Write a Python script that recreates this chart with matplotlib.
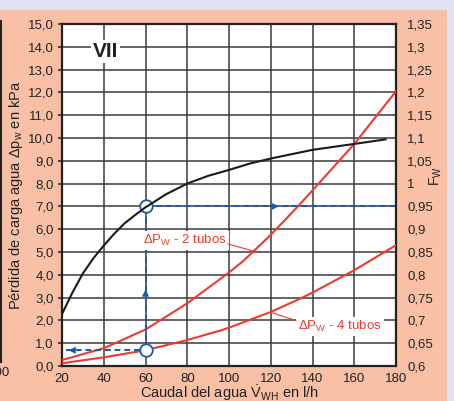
import matplotlib.pyplot as plt
from matplotlib.lines import Line2D
from matplotlib.patches import Rectangle

plt.rcParams['font.family'] = ['Liberation Sans', 'DejaVu Sans']
plt.rcParams['mathtext.fontset'] = 'custom'
plt.rcParams['mathtext.rm'] = 'Liberation Sans'
plt.rcParams['mathtext.it'] = 'Liberation Sans:italic'
plt.rcParams['mathtext.bf'] = 'Liberation Sans:bold'

# caudal de agua (l/h) y pérdida de carga (kPa)
caudal_2t = [20, 40, 60, 67, 80, 100, 107, 120, 133, 140, 160, 180]
dp_2tubos = [0.26, 0.78, 1.6, 2.0, 2.75, 4.1, 4.62, 5.75, 7.0, 7.7, 9.74, 12.05]
caudal_4t = [20, 40, 60, 80, 96, 100, 120, 134, 140, 160, 180]
dp_4tubos = [0.12, 0.38, 0.69, 1.14, 1.56, 1.68, 2.37, 2.95, 3.22, 4.2, 5.3]

# factor de corrección Fw
caudal_fw = [20, 25, 30, 35, 40, 45, 50, 55, 60, 70, 80, 90, 100, 110, 120, 140, 160, 175]
fw = [0.714, 0.761, 0.803, 0.836, 0.864, 0.89, 0.913, 0.931, 0.948, 0.977, 1.0,
      1.017, 1.03, 1.044, 1.055, 1.074, 1.087, 1.097]

# ejemplo de lectura
q_ej = 60
dp_ej = 0.69
fw_ej = 0.95

x_ticks = [20, 40, 60, 80, 100, 120, 140, 160, 180]
dp_ticks = [i * 1.0 for i in range(16)]
fw_ticks = [0.6 + 0.05 * i for i in range(16)]

rojo = '#ee3b2f'
azul = '#1a5aaa'
melocoton = '#f9c0a6'
lavanda = '#dfe3f3'

fig = plt.figure(figsize=(4.54, 4.01), dpi=100, facecolor=lavanda)
fig.patches.append(Rectangle((0, 0), 447 / 454, 391 / 401, transform=fig.transFigure,
                             facecolor=melocoton, edgecolor='none', zorder=-10))
fig.lines.append(Line2D([1 / 454, 1 / 454], [1 - 21 / 401, 1 - 362 / 401],
                        transform=fig.transFigure, color='#222222', lw=1.5))
fig.text(10 / 454, 1 - 373 / 401, '100', ha='right', va='center', fontsize=9.5, color='#222222')

ax = fig.add_axes([62 / 454, 35 / 401, 334 / 454, 342 / 401])
ax.set_facecolor('white')
ax.set_xlim(20, 180)
ax.set_ylim(0, 15)
ax.set_xticks(x_ticks)
ax.set_yticks(dp_ticks)
ax.set_yticklabels([f'{v:.1f}'.replace('.', ',') for v in dp_ticks])
ax.grid(True, color='#3a3a3a', lw=1.1)
ax.set_axisbelow(True)
for s in ax.spines.values():
    s.set_linewidth(1.6)
    s.set_color('#222222')
ax.tick_params(axis='y', direction='out', length=3, width=1.1, pad=3, labelsize=9.5, colors='#222222')
ax.tick_params(axis='x', length=0, pad=5, labelsize=9.5, colors='#222222')

ax.plot(caudal_2t, dp_2tubos, color=rojo, lw=1.5, zorder=3)
ax.plot(caudal_4t, dp_4tubos, color=rojo, lw=1.5, zorder=3)

ax2 = ax.twinx()
ax2.set_ylim(0.6, 1.35)
ax2.set_yticks(fw_ticks)
ax2.set_yticklabels([format(round(v, 2), 'g').replace('.', ',') for v in fw_ticks])
ax2.tick_params(axis='y', length=0, pad=8, labelsize=9.5, colors='#222222')
for s in ax2.spines.values():
    s.set_visible(False)
ax2.plot(caudal_fw, fw, color='#1a1a1a', lw=1.5, zorder=3)
fig.text(436 / 454, 1 - 176 / 401, r'F$_\mathregular{W}$', rotation=90, ha='center', va='center',
         fontsize=10, color='#222222')

# líneas de lectura (coordenadas del eje izquierdo)
dp_fw = (fw_ej - 0.6) / 0.05
ax.plot([21.8, q_ej], [dp_ej, dp_ej], ls=(0, (3, 2)), color=azul, lw=1.4, zorder=4)
ax.plot([q_ej, q_ej], [dp_ej, dp_fw], ls=(0, (3, 2)), color=azul, lw=1.4, zorder=4)
ax.plot([q_ej, 180], [dp_fw, dp_fw], ls=(0, (3, 2)), color=azul, lw=1.4, zorder=4)
flecha = dict(arrowstyle='-|>', color=azul, lw=0, mutation_scale=13)
ax.annotate('', xy=(21.8, dp_ej), xytext=(27, dp_ej), arrowprops=flecha, zorder=5)
ax.annotate('', xy=(q_ej, 3.48), xytext=(q_ej, 3.0), arrowprops=flecha, zorder=5)
ax.annotate('', xy=(125.2, dp_fw), xytext=(120, dp_fw), arrowprops=flecha, zorder=5)
ax.plot([q_ej, q_ej], [dp_ej, dp_fw], 'o', ms=9, mfc='white', mec=azul, mew=1.3, zorder=6)

# etiquetas
caja = dict(boxstyle='square,pad=0.15', facecolor='white', edgecolor='none')
ax.text(40.8, 13.78, 'VII', ha='center', va='center', fontsize=15, fontweight='bold',
        color='#222222', bbox=dict(boxstyle='square,pad=0.1', facecolor='white', edgecolor='none'), zorder=5)
ax.text(59, 5.5, r'ΔP$_\mathregular{W}$ - 2 tubos', ha='left', va='center', fontsize=9.5,
        color=rojo, bbox=caja, zorder=5)
ax.plot([99.5, 111.5], [5.35, 5.05], color=rojo, lw=0.8, zorder=5)
ax.text(133.2, 1.72, r'ΔP$_\mathregular{W}$ - 4 tubos', ha='left', va='center', fontsize=9.5,
        color=rojo, bbox=caja, zorder=5)
ax.plot([120, 132], [2.35, 2.0], color=rojo, lw=0.8, zorder=5)

ax.set_xlabel(r'Caudal del agua $\dot{\mathrm{V}}_\mathrm{WH}$ en l/h', fontsize=10.5,
              color='#222222', labelpad=-1)
ax.set_ylabel(r'Pérdida de carga agua Δp$_\mathregular{w}$ en kPa', fontsize=10.5,
              color='#222222', labelpad=2)

fig.savefig('out.png', dpi=100, facecolor=lavanda)
